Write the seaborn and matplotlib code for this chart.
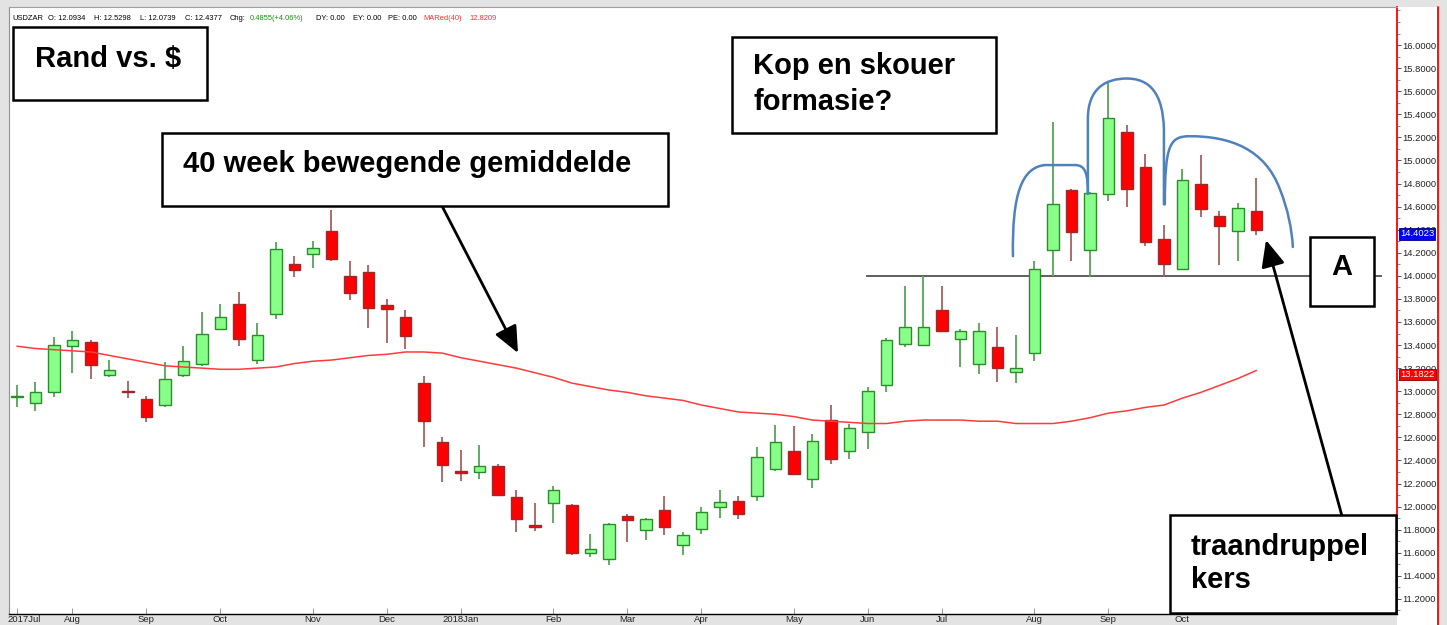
import numpy as np
import pandas as pd
import matplotlib
matplotlib.use('Agg')
import matplotlib.pyplot as plt
import seaborn as sns
from matplotlib.patches import Rectangle, PathPatch
from matplotlib.path import Path
from matplotlib.lines import Line2D
from matplotlib.transforms import blended_transform_factory, ScaledTranslation

W, H = 1447, 625

# weekly USDZAR candles, Jul 2017 - Oct 2018
weeks = pd.date_range('2017-07-17', periods=68, freq='7D')

opens = [12.95, 12.90, 12.99, 13.39, 13.43, 13.14, 13.00, 12.93, 12.88, 13.14,
         13.24, 13.54, 13.76, 13.27, 13.67, 14.10, 14.19, 14.39, 14.00, 14.03,
         13.75, 13.64, 13.07, 12.56, 12.31, 12.30, 12.35, 12.08, 11.84, 12.03,
         12.01, 11.60, 11.55, 11.92, 11.80, 11.97, 11.67, 11.81, 12.00, 12.05,
         12.09, 12.33, 12.48, 12.24, 12.75, 12.48, 12.65, 13.05, 13.41, 13.40,
         13.70, 13.45, 13.24, 13.38, 13.17, 13.33, 14.22, 14.74, 14.22, 14.71,
         15.25, 14.94, 14.32, 14.06, 14.80, 14.52, 14.39, 14.56]
highs = [13.05, 13.08, 13.47, 13.52, 13.44, 13.27, 13.09, 12.96, 13.25, 13.39,
         13.69, 13.76, 13.86, 13.59, 14.29, 14.17, 14.30, 14.57, 14.13, 14.09,
         13.80, 13.70, 13.13, 12.60, 12.49, 12.53, 12.37, 12.14, 12.03, 12.18,
         12.02, 11.76, 11.86, 11.94, 11.90, 12.09, 11.78, 12.00, 12.14, 12.09,
         12.52, 12.71, 12.70, 12.63, 12.88, 12.72, 13.04, 13.46, 13.91, 14.00,
         13.91, 13.54, 13.59, 13.56, 13.49, 14.13, 15.33, 14.75, 14.73, 15.69,
         15.31, 15.06, 14.44, 14.93, 15.05, 14.56, 14.63, 14.85]
lows = [12.86, 12.83, 12.95, 13.16, 13.11, 13.12, 12.94, 12.73, 12.86, 13.12,
        13.22, 13.53, 13.39, 13.24, 13.63, 13.99, 14.07, 14.13, 13.79, 13.55,
        13.42, 13.37, 12.52, 12.21, 12.22, 12.24, 12.09, 11.78, 11.79, 11.86,
        11.58, 11.56, 11.49, 11.69, 11.71, 11.75, 11.58, 11.76, 11.90, 11.89,
        12.05, 12.31, 12.28, 12.16, 12.37, 12.41, 12.50, 12.99, 13.38, 13.40,
        13.52, 13.21, 13.15, 13.08, 13.07, 13.26, 14.00, 14.13, 13.99, 14.65,
        14.60, 14.26, 13.99, 14.05, 14.51, 14.09, 14.13, 14.35]
closes = [12.96, 12.99, 13.40, 13.44, 13.23, 13.18, 12.99, 12.78, 13.11, 13.26,
          13.50, 13.64, 13.45, 13.49, 14.23, 14.05, 14.24, 14.15, 13.85, 13.72,
          13.71, 13.48, 12.74, 12.36, 12.29, 12.35, 12.10, 11.89, 11.82, 12.14,
          11.60, 11.63, 11.85, 11.88, 11.89, 11.82, 11.75, 11.95, 12.04, 11.94,
          12.43, 12.56, 12.28, 12.57, 12.41, 12.68, 13.00, 13.44, 13.56, 13.56,
          13.52, 13.52, 13.52, 13.20, 13.20, 14.06, 14.62, 14.38, 14.72, 15.37,
          14.75, 14.29, 14.10, 14.83, 14.58, 14.43, 14.59, 14.40]
ma40 = [13.39, 13.37, 13.36, 13.35, 13.34, 13.31, 13.28, 13.25, 13.22, 13.21,
        13.20, 13.19, 13.19, 13.20, 13.21, 13.24, 13.26, 13.27, 13.29, 13.31,
        13.32, 13.34, 13.34, 13.33, 13.29, 13.26, 13.23, 13.20, 13.16, 13.12,
        13.07, 13.04, 13.01, 12.99, 12.96, 12.94, 12.92, 12.88, 12.85, 12.82,
        12.81, 12.80, 12.78, 12.75, 12.74, 12.73, 12.72, 12.72, 12.74, 12.75,
        12.75, 12.75, 12.74, 12.74, 12.72, 12.72, 12.72, 12.74, 12.77, 12.81,
        12.83, 12.86, 12.88, 12.94, 12.99, 13.05, 13.11, 13.18]

last_price = 14.4023
last_ma = 13.1822
neckline = 14.0


def fx(px):
    return px / W


def fy(py):
    return 1 - py / H


sns.set_style('white')
plt.rcParams['font.family'] = ['Liberation Sans', 'DejaVu Sans']

df = pd.DataFrame({'week': weeks, 'open': opens, 'high': highs, 'low': lows,
                   'close': closes, 'ma': ma40})
df['i'] = np.arange(len(df))

fig = plt.figure(figsize=(W / 100, H / 100), dpi=100, facecolor='#e3e3e3')
# white price panel on the right
fig.add_artist(Rectangle((fx(1397), 0), fx(1438) - fx(1397), fy(7), transform=fig.transFigure,
                         fc='white', ec='none', zorder=-2))
fig.add_artist(Line2D([fx(1438), fx(1438)], [0, fy(7)], color='red', lw=1.3,
                      transform=fig.transFigure))

ax = fig.add_axes([fx(9), fy(614), fx(1397) - fx(9), fy(7) - fy(614)])
ax.set_facecolor('white')

up = df['close'] >= df['open']
body_fill = np.where(up, '#88ff88', '#ff0000')
body_edge = np.where(up, '#2a8c2a', '#9c2a2a')
wick = np.where(up, '#55a555', '#a86060')

ax.vlines(df['i'], df['low'], df['high'], colors=wick, lw=1.3, zorder=2)
bottom = df[['open', 'close']].min(axis=1)
height = (df['close'] - df['open']).abs().clip(lower=0.012)
ax.bar(df['i'], height, bottom=bottom, width=0.63, color=body_fill,
       edgecolor=body_edge, linewidth=1.0, zorder=3)

sns.lineplot(data=df, x='i', y='ma', ax=ax, color='#ff3b3b', lw=1.1, zorder=4, legend=False)

# neckline
ax.hlines(neckline, 45.9, 73.8, color='#444444', lw=1.2, zorder=1)

# hand drawn head and shoulders
C4, L2, M = Path.CURVE4, Path.LINETO, Path.MOVETO
hs = [
    ([(53.84, 14.17), (53.78, 14.71), (54.32, 14.94), (55.57, 14.96), (57.19, 14.96),
      (57.78, 14.96), (57.89, 14.88), (57.89, 14.71)],
     [M, C4, C4, C4, L2, C4, C4, C4]),
    ([(57.89, 14.71), (57.89, 15.36), (57.89, 15.62), (58.81, 15.71), (60.0, 15.71),
      (61.24, 15.71), (61.95, 15.58), (62.0, 15.27), (62.0, 14.62)],
     [M, L2, C4, C4, C4, C4, C4, C4, L2]),
    ([(62.05, 14.62), (62.05, 15.14), (62.32, 15.21), (63.41, 15.21), (65.57, 15.21),
      (67.46, 15.10), (68.27, 14.75), (68.70, 14.58), (68.92, 14.40), (68.97, 14.25)],
     [M, C4, C4, C4, C4, C4, C4, C4, C4, C4]),
]
for verts, codes in hs:
    ax.add_patch(PathPatch(Path(verts, codes), fill=False, ec='#4f81bd', lw=1.8,
                           capstyle='round', zorder=5))

ax.set_xlim(-0.43, 74.6)
ax.set_ylim(11.069, 16.33)
ax.set_xlabel('')
ax.set_ylabel('')

# month ticks
month = weeks.month
first = np.r_[True, month[1:] != month[:-1]]
tick_pos = np.flatnonzero(first)
tick_lab = [(f'{d.year}' if (k == 0 or d.month == 1) else '') + d.strftime('%b')
            for k, d in enumerate(weeks[tick_pos])]
ax.set_xticks(tick_pos)
ax.set_xticklabels(tick_lab)
ax.tick_params(axis='x', bottom=True, direction='in', length=4, width=0.7, color='#999999',
               labelsize=6.8, pad=1, labelcolor='#222222')
# first label sits a little to the right, inside the chart
lab0 = ax.get_xticklabels()[0]
lab0.set_transform(lab0.get_transform() + ScaledTranslation(7 / 100, 0, fig.dpi_scale_trans))

ax.yaxis.tick_right()
yt = np.round(np.arange(11.2, 16.01, 0.2), 1)
ax.set_yticks(yt)
ax.set_yticklabels([f'{v:.4f}' for v in yt])
ax.set_yticks(np.round(np.arange(11.1, 16.31, 0.1), 1), minor=True)
ax.tick_params(axis='y', which='major', right=True, left=False, labelright=True,
               labelleft=False, direction='out', length=3, width=0.7, color='#555555',
               labelsize=6.8, pad=1, labelcolor='#222222')
ax.tick_params(axis='y', which='minor', right=True, left=False, direction='out',
               length=2, width=0.6, color='#777777')

for s in ax.spines.values():
    s.set_visible(True)
ax.spines['right'].set_color('red')
ax.spines['right'].set_linewidth(1.3)
ax.spines['bottom'].set_color('black')
ax.spines['bottom'].set_linewidth(1.0)
ax.spines['top'].set_color('#a0a0a0')
ax.spines['top'].set_linewidth(0.8)
ax.spines['left'].set_color('#909090')
ax.spines['left'].set_linewidth(0.8)

# price flags on the right scale
tr = blended_transform_factory(ax.transAxes, ax.transData)
ax.text(1.0022, last_price, f'{last_price:.4f}', transform=tr, va='top', ha='left',
        fontsize=6.8, color='white', zorder=10, clip_on=False,
        bbox=dict(boxstyle='square,pad=0.12', fc='#0000ff', ec='#000080', lw=0.6))
ax.text(1.0022, last_ma, f'{last_ma:.4f}', transform=tr, va='top', ha='left',
        fontsize=6.8, color='white', zorder=10, clip_on=False,
        bbox=dict(boxstyle='square,pad=0.12', fc='#ff0000', ec='#800000', lw=0.6))

# header line
header = [('USDZAR', 12, '#000000'), ('O: 12.0934', 48, '#000000'),
          ('H: 12.5298', 94, '#000000'), ('L: 12.0739', 140, '#000000'),
          ('C: 12.4377', 185, '#000000'), ('Chg:', 230, '#000000'),
          ('0.4855(+4.06%)', 250, '#1a8a1a'), ('DY: 0.00', 316, '#000000'),
          ('EY: 0.00', 353, '#000000'), ('PE: 0.00', 388, '#000000'),
          ('MARed(40)', 423, '#ff3030'), ('12.8209', 469, '#ff3030')]
for s, x, c in header:
    fig.text(fx(x), fy(20), s, fontsize=5.4, color=c, va='baseline', ha='left', zorder=9)

# annotation boxes
boxes = [(13, 27, 207, 100), (732, 37, 996, 133), (162, 133, 668, 206),
         (1170, 515, 1396, 613), (1310, 237, 1374, 306)]
for x0, y0, x1, y1 in boxes:
    fig.add_artist(Rectangle((fx(x0), fy(y1)), fx(x1) - fx(x0), fy(y0) - fy(y1),
                             transform=fig.transFigure, fc='white', ec='black', lw=1.8,
                             zorder=7))

labels = [('Rand vs. $', 35, 67, 'left'), ('Kop en skouer', 753, 74, 'left'),
          ('formasie?', 753, 110, 'left'), ('40 week bewegende gemiddelde', 183, 172, 'left'),
          ('traandruppel', 1191, 555, 'left'), ('kers', 1191, 588, 'left'),
          ('A', 1342, 275, 'center')]
for s, x, y, ha in labels:
    fig.text(fx(x), fy(y), s, fontsize=21, fontweight='bold', va='baseline', ha=ha,
             color='black', zorder=9)

arrows = [((442, 206), (518, 353)), ((1342, 516), (1266, 240))]
for (x0, y0), (x1, y1) in arrows:
    ax.annotate('', xy=(fx(x1), fy(y1)), xycoords='figure fraction',
                xytext=(fx(x0), fy(y0)), textcoords='figure fraction',
                arrowprops=dict(arrowstyle='-|>,head_length=0.9,head_width=0.4', lw=2,
                                color='black', mutation_scale=18, shrinkA=0, shrinkB=0),
                annotation_clip=False, zorder=8)

fig.savefig('out.png', dpi=100, facecolor=fig.get_facecolor())
